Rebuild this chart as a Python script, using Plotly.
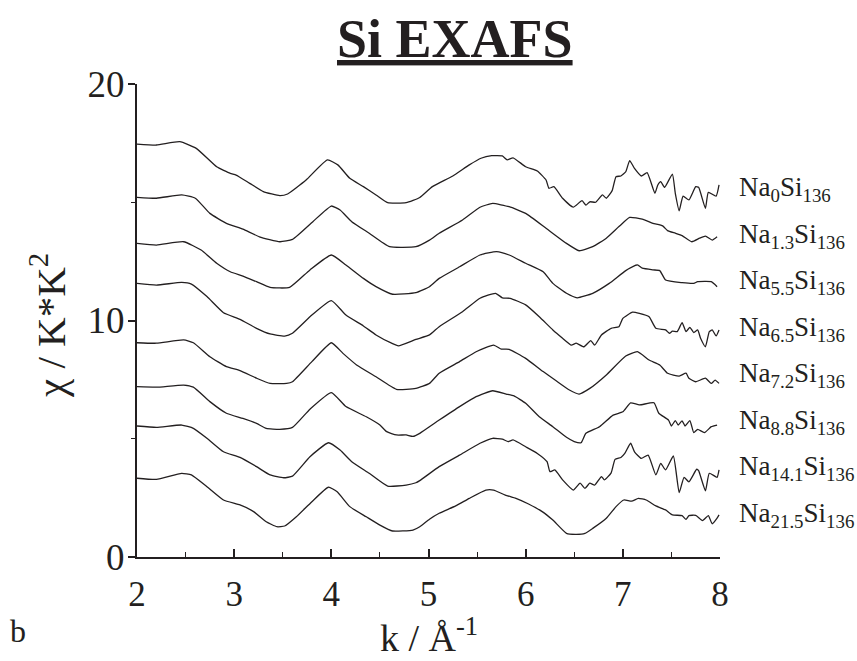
import plotly.graph_objects as go

# ---- data ----
k1 = [2.0, 2.2, 2.44, 2.61, 2.82, 2.96, 3.02, 3.16, 3.3, 3.47, 3.55, 3.74, 3.96, 4.07, 4.19, 4.33, 4.46, 4.58, 4.77, 4.91,
      5.04, 5.25, 5.42, 5.54, 5.65, 5.76, 5.81, 5.87, 6.0, 6.12, 6.21, 6.24, 6.29, 6.38, 6.49, 6.58, 6.62, 6.66, 6.72, 6.79,
      6.83, 6.89, 6.93, 6.98, 7.03, 7.07, 7.12, 7.19, 7.25, 7.33, 7.36, 7.39, 7.43, 7.51, 7.54, 7.58, 7.62, 7.68, 7.75, 7.78,
      7.85, 7.88, 7.96, 7.99]
y1 = [17.46, 17.42, 17.56, 17.28, 16.5, 16.22, 16.15, 15.8, 15.45, 15.28, 15.35, 15.94, 16.79, 16.57, 16.01, 15.66, 15.31, 14.98, 14.98, 15.2,
      15.66, 16.11, 16.58, 16.86, 16.97, 16.96, 16.79, 16.88, 16.5, 16.32, 15.94, 15.59, 15.66, 15.17, 14.79, 15.07, 14.88, 15.02, 15.0, 15.31,
      15.17, 15.49, 16.08, 16.11, 16.29, 16.76, 16.43, 16.11, 16.25, 15.38, 15.73, 15.87, 15.63, 16.19, 15.38, 14.64, 15.26, 15.1, 15.66, 15.63,
      14.74, 15.42, 15.26, 15.73]

k2 = [2.0, 2.2, 2.46, 2.6, 2.75, 2.92, 3.09, 3.26, 3.47, 3.6, 3.81, 4.0, 4.09, 4.21, 4.39, 4.6, 4.87, 5.01, 5.11, 5.35,
      5.53, 5.66, 5.83, 6.0, 6.21, 6.42, 6.55, 6.69, 6.83, 6.96, 7.07, 7.2, 7.31, 7.41, 7.46, 7.54, 7.61, 7.71, 7.79, 7.85,
      7.92, 7.97]
y2 = [15.21, 15.17, 15.31, 15.17, 14.53, 14.11, 13.86, 13.54, 13.33, 13.43, 14.18, 14.84, 14.67, 14.18, 13.69, 13.12, 13.12, 13.4, 13.69, 14.25,
      14.79, 14.95, 14.81, 14.53, 13.9, 13.26, 12.95, 13.12, 13.48, 13.97, 14.36, 14.29, 14.11, 14.0, 13.8, 13.69, 13.59, 13.33, 13.48, 13.57,
      13.4, 13.54]

k3 = [2.0, 2.2, 2.48, 2.66, 2.82, 2.96, 3.09, 3.23, 3.37, 3.57, 3.78, 4.0, 4.15, 4.33, 4.46, 4.63, 4.87, 5.01, 5.11, 5.32,
      5.53, 5.7, 5.83, 6.0, 6.18, 6.28, 6.42, 6.53, 6.69, 6.86, 7.03, 7.15, 7.2, 7.31, 7.38, 7.44, 7.61, 7.73, 7.77, 7.91,
      7.97]
y3 = [13.26, 13.19, 13.33, 12.98, 12.42, 12.06, 11.88, 11.64, 11.4, 11.4, 12.14, 12.77, 12.35, 11.78, 11.43, 11.11, 11.18, 11.43, 11.78, 12.27,
      12.77, 12.91, 12.77, 12.42, 12.06, 11.57, 11.15, 10.96, 11.15, 11.57, 12.11, 12.35, 12.21, 12.14, 12.11, 11.71, 11.6, 11.57, 11.64, 11.64,
      11.43]

k4 = [2.0, 2.2, 2.46, 2.56, 2.72, 2.89, 3.06, 3.23, 3.37, 3.52, 3.6, 3.8, 4.0, 4.15, 4.33, 4.46, 4.62, 4.69, 4.87, 5.01,
      5.11, 5.35, 5.53, 5.69, 5.76, 5.84, 6.0, 6.14, 6.28, 6.38, 6.47, 6.52, 6.6, 6.67, 6.71, 6.78, 6.88, 6.96, 7.0, 7.1,
      7.17, 7.27, 7.34, 7.44, 7.48, 7.51, 7.56, 7.61, 7.65, 7.69, 7.73, 7.77, 7.8, 7.85, 7.89, 7.92, 7.96, 7.99]
y4 = [11.57, 11.5, 11.61, 11.54, 11.01, 10.33, 10.05, 9.67, 9.43, 9.34, 9.46, 10.23, 10.84, 10.23, 9.77, 9.39, 9.04, 8.93, 9.2, 9.39,
      9.74, 10.37, 10.94, 11.15, 10.96, 10.94, 10.66, 10.16, 9.6, 9.25, 8.96, 9.04, 8.89, 9.15, 8.96, 9.39, 9.67, 9.74, 10.09, 10.35,
      10.3, 10.16, 9.67, 9.6, 9.46, 9.55, 9.53, 9.91, 9.53, 9.71, 9.49, 9.6, 9.25, 8.89, 9.53, 9.6, 9.35, 9.6]

k5 = [2.0, 2.2, 2.48, 2.58, 2.75, 2.92, 3.06, 3.23, 3.37, 3.54, 3.6, 3.8, 4.0, 4.12, 4.26, 4.46, 4.67, 4.87, 5.01, 5.11,
      5.32, 5.49, 5.67, 5.75, 5.83, 6.0, 6.18, 6.31, 6.45, 6.55, 6.66, 6.83, 7.03, 7.15, 7.27, 7.38, 7.46, 7.58, 7.65, 7.68,
      7.75, 7.85, 7.91, 7.95, 7.99]
y5 = [9.06, 9.04, 9.18, 9.06, 8.47, 8.05, 7.88, 7.56, 7.34, 7.34, 7.41, 8.26, 9.06, 8.61, 8.12, 7.62, 7.09, 7.13, 7.34, 7.77,
      8.26, 8.68, 8.96, 8.79, 8.78, 8.4, 7.84, 7.46, 7.06, 6.89, 7.13, 7.7, 8.5, 8.68, 8.33, 8.12, 7.77, 7.65, 7.77, 7.56,
      7.41, 7.56, 7.34, 7.48, 7.34]

k6 = [2.0, 2.2, 2.48, 2.58, 2.75, 2.92, 3.09, 3.23, 3.33, 3.47, 3.6, 3.78, 4.0, 4.15, 4.36, 4.5, 4.57, 4.67, 4.77, 4.84,
      4.91, 5.11, 5.32, 5.49, 5.66, 5.8, 5.88, 6.0, 6.14, 6.28, 6.42, 6.5, 6.57, 6.62, 6.76, 6.9, 7.0, 7.08, 7.17, 7.32,
      7.37, 7.47, 7.5, 7.54, 7.57, 7.61, 7.64, 7.69, 7.73, 7.77, 7.84, 7.91, 7.97]
y6 = [7.2, 7.18, 7.27, 7.18, 6.57, 6.08, 5.86, 5.65, 5.44, 5.4, 5.48, 6.25, 6.95, 6.36, 5.93, 5.58, 5.3, 5.16, 5.16, 5.1,
      5.23, 5.79, 6.36, 6.78, 7.03, 6.89, 6.81, 6.5, 5.93, 5.51, 5.06, 4.88, 4.83, 5.23, 5.51, 6.0, 6.14, 6.52, 6.43, 6.52,
      6.08, 5.79, 5.54, 5.77, 5.58, 5.76, 5.54, 5.77, 5.26, 5.4, 5.26, 5.51, 5.58]

k7 = [2.0, 2.2, 2.46, 2.58, 2.72, 2.89, 3.06, 3.23, 3.37, 3.51, 3.6, 3.78, 3.97, 4.09, 4.21, 4.39, 4.58, 4.77, 4.87, 4.91,
      5.11, 5.32, 5.53, 5.66, 5.76, 5.82, 5.87, 6.0, 6.12, 6.22, 6.25, 6.3, 6.38, 6.49, 6.56, 6.61, 6.66, 6.71, 6.78, 6.81,
      6.88, 6.92, 6.98, 7.02, 7.08, 7.12, 7.19, 7.26, 7.34, 7.39, 7.44, 7.52, 7.58, 7.63, 7.68, 7.76, 7.78, 7.85, 7.89, 7.97,
      7.99]
y7 = [5.54, 5.48, 5.58, 5.44, 5.02, 4.45, 4.21, 3.82, 3.47, 3.35, 3.42, 4.24, 4.83, 4.52, 4.03, 3.54, 3.0, 3.04, 3.14, 3.23,
      3.82, 4.31, 4.81, 5.02, 4.98, 4.88, 4.95, 4.66, 4.38, 4.03, 3.61, 3.68, 3.26, 2.83, 3.12, 2.9, 3.12, 3.04, 3.4, 3.26,
      3.56, 4.13, 4.21, 4.38, 4.81, 4.45, 4.17, 4.31, 3.47, 3.96, 3.68, 4.27, 2.72, 3.37, 3.18, 3.71, 3.65, 2.8, 3.54, 3.37,
      3.68]

k8 = [2.0, 2.2, 2.46, 2.56, 2.72, 2.89, 3.06, 3.2, 3.33, 3.44, 3.52, 3.64, 3.8, 3.97, 4.06, 4.19, 4.36, 4.5, 4.63, 4.84,
      4.91, 5.01, 5.11, 5.28, 5.42, 5.59, 5.67, 5.79, 5.9, 6.03, 6.17, 6.28, 6.42, 6.52, 6.61, 6.69, 6.83, 6.93, 7.01, 7.09,
      7.16, 7.24, 7.34, 7.44, 7.51, 7.61, 7.65, 7.68, 7.75, 7.82, 7.88, 7.92, 7.97, 7.99]
y8 = [3.33, 3.28, 3.54, 3.47, 2.97, 2.41, 2.2, 1.92, 1.49, 1.28, 1.31, 1.7, 2.34, 2.95, 2.76, 2.13, 1.7, 1.35, 1.1, 1.14,
      1.28, 1.6, 1.85, 2.16, 2.48, 2.83, 2.83, 2.62, 2.48, 2.24, 1.92, 1.56, 1.0, 0.96, 1.0, 1.21, 1.64, 2.13, 2.41, 2.36,
      2.48, 2.41, 2.16, 1.99, 1.78, 1.75, 1.59, 1.75, 1.76, 1.54, 1.75, 1.4, 1.64, 1.78]

sample_labels = ["Na<sub>0</sub>Si<sub>136</sub>", "Na<sub>1.3</sub>Si<sub>136</sub>",
                 "Na<sub>5.5</sub>Si<sub>136</sub>", "Na<sub>6.5</sub>Si<sub>136</sub>",
                 "Na<sub>7.2</sub>Si<sub>136</sub>", "Na<sub>8.8</sub>Si<sub>136</sub>",
                 "Na<sub>14.1</sub>Si<sub>136</sub>", "Na<sub>21.5</sub>Si<sub>136</sub>"]

x_tickvals = [2, 3, 4, 5, 6, 7, 8]
y_tickvals = [0, 10, 20]

# ---- figure ----
FONT = "Liberation Serif"
INK = "#231f20"

series = [(k1, y1), (k2, y2), (k3, y3), (k4, y4), (k5, y5), (k6, y6), (k7, y7), (k8, y8)]

fig = go.Figure()
for (kx, yy), name in zip(series, sample_labels):
    fig.add_trace(go.Scatter(x=kx, y=yy, mode="lines", name=name,
                             line=dict(color=INK, width=1.3, shape="spline", smoothing=0.45),
                             showlegend=False, hoverinfo="skip"))

annotations = []
# right-hand labels
for i, lab in enumerate(sample_labels):
    annotations.append(dict(x=1.03, xref="paper", y=15.55 - i * 1.965, yref="y",
                            text=lab, showarrow=False, xanchor="left", yanchor="middle",
                            font=dict(family=FONT, size=27, color=INK)))
# title
annotations.append(dict(x=0.545, xref="paper", y=1.0, yref="paper", yshift=45, yanchor="middle",
                        text="<b>Si EXAFS</b>", showarrow=False, xanchor="center",
                        font=dict(family=FONT, size=54, color=INK, lineposition="under")))
# axis titles
annotations.append(dict(x=-0.153, xref="paper", y=0.49, yref="paper", textangle=-90,
                        text="χ / K*K<sup>2</sup>", showarrow=False, xanchor="center", yanchor="middle",
                        font=dict(family=FONT, size=41, color=INK)))
annotations.append(dict(x=0.5, xref="paper", y=0.0, yref="paper", yshift=-78,
                        text="k / Å<sup>-1</sup>", showarrow=False, xanchor="center", yanchor="middle",
                        font=dict(family=FONT, size=38, color=INK)))
annotations.append(dict(x=-0.222, xref="paper", y=0.0, yref="paper", yshift=-74,
                        text="b", showarrow=False, xanchor="left", yanchor="middle",
                        font=dict(family=FONT, size=32, color=INK)))

fig.update_layout(
    width=857, height=661,
    margin=dict(l=137, r=137, t=84, b=104),
    paper_bgcolor="white", plot_bgcolor="white",
    annotations=annotations,
    font=dict(family=FONT, color=INK),
    xaxis=dict(range=[2, 8], tickvals=x_tickvals, ticktext=[str(v) for v in x_tickvals],
               ticks="inside", ticklen=8, tickwidth=1.5, tickcolor=INK, ticklabelstandoff=5,
               showline=True, linecolor=INK, linewidth=2, showgrid=False, zeroline=False,
               tickfont=dict(family=FONT, size=35, color=INK),
               minor=dict(dtick=0.5, tick0=2, ticks="inside", ticklen=5, tickwidth=1.3, tickcolor=INK)),
    yaxis=dict(range=[0, 20], tickvals=y_tickvals, ticktext=[str(v) for v in y_tickvals],
               ticks="outside", ticklen=7, tickwidth=1.5, tickcolor=INK, ticklabelstandoff=-4,
               showline=True, linecolor=INK, linewidth=2, showgrid=False, zeroline=False,
               tickfont=dict(family=FONT, size=37, color=INK),
               minor=dict(dtick=5, tick0=0, ticks="outside", ticklen=4, tickwidth=1.3, tickcolor=INK)),
)

fig.write_html("out.html")
